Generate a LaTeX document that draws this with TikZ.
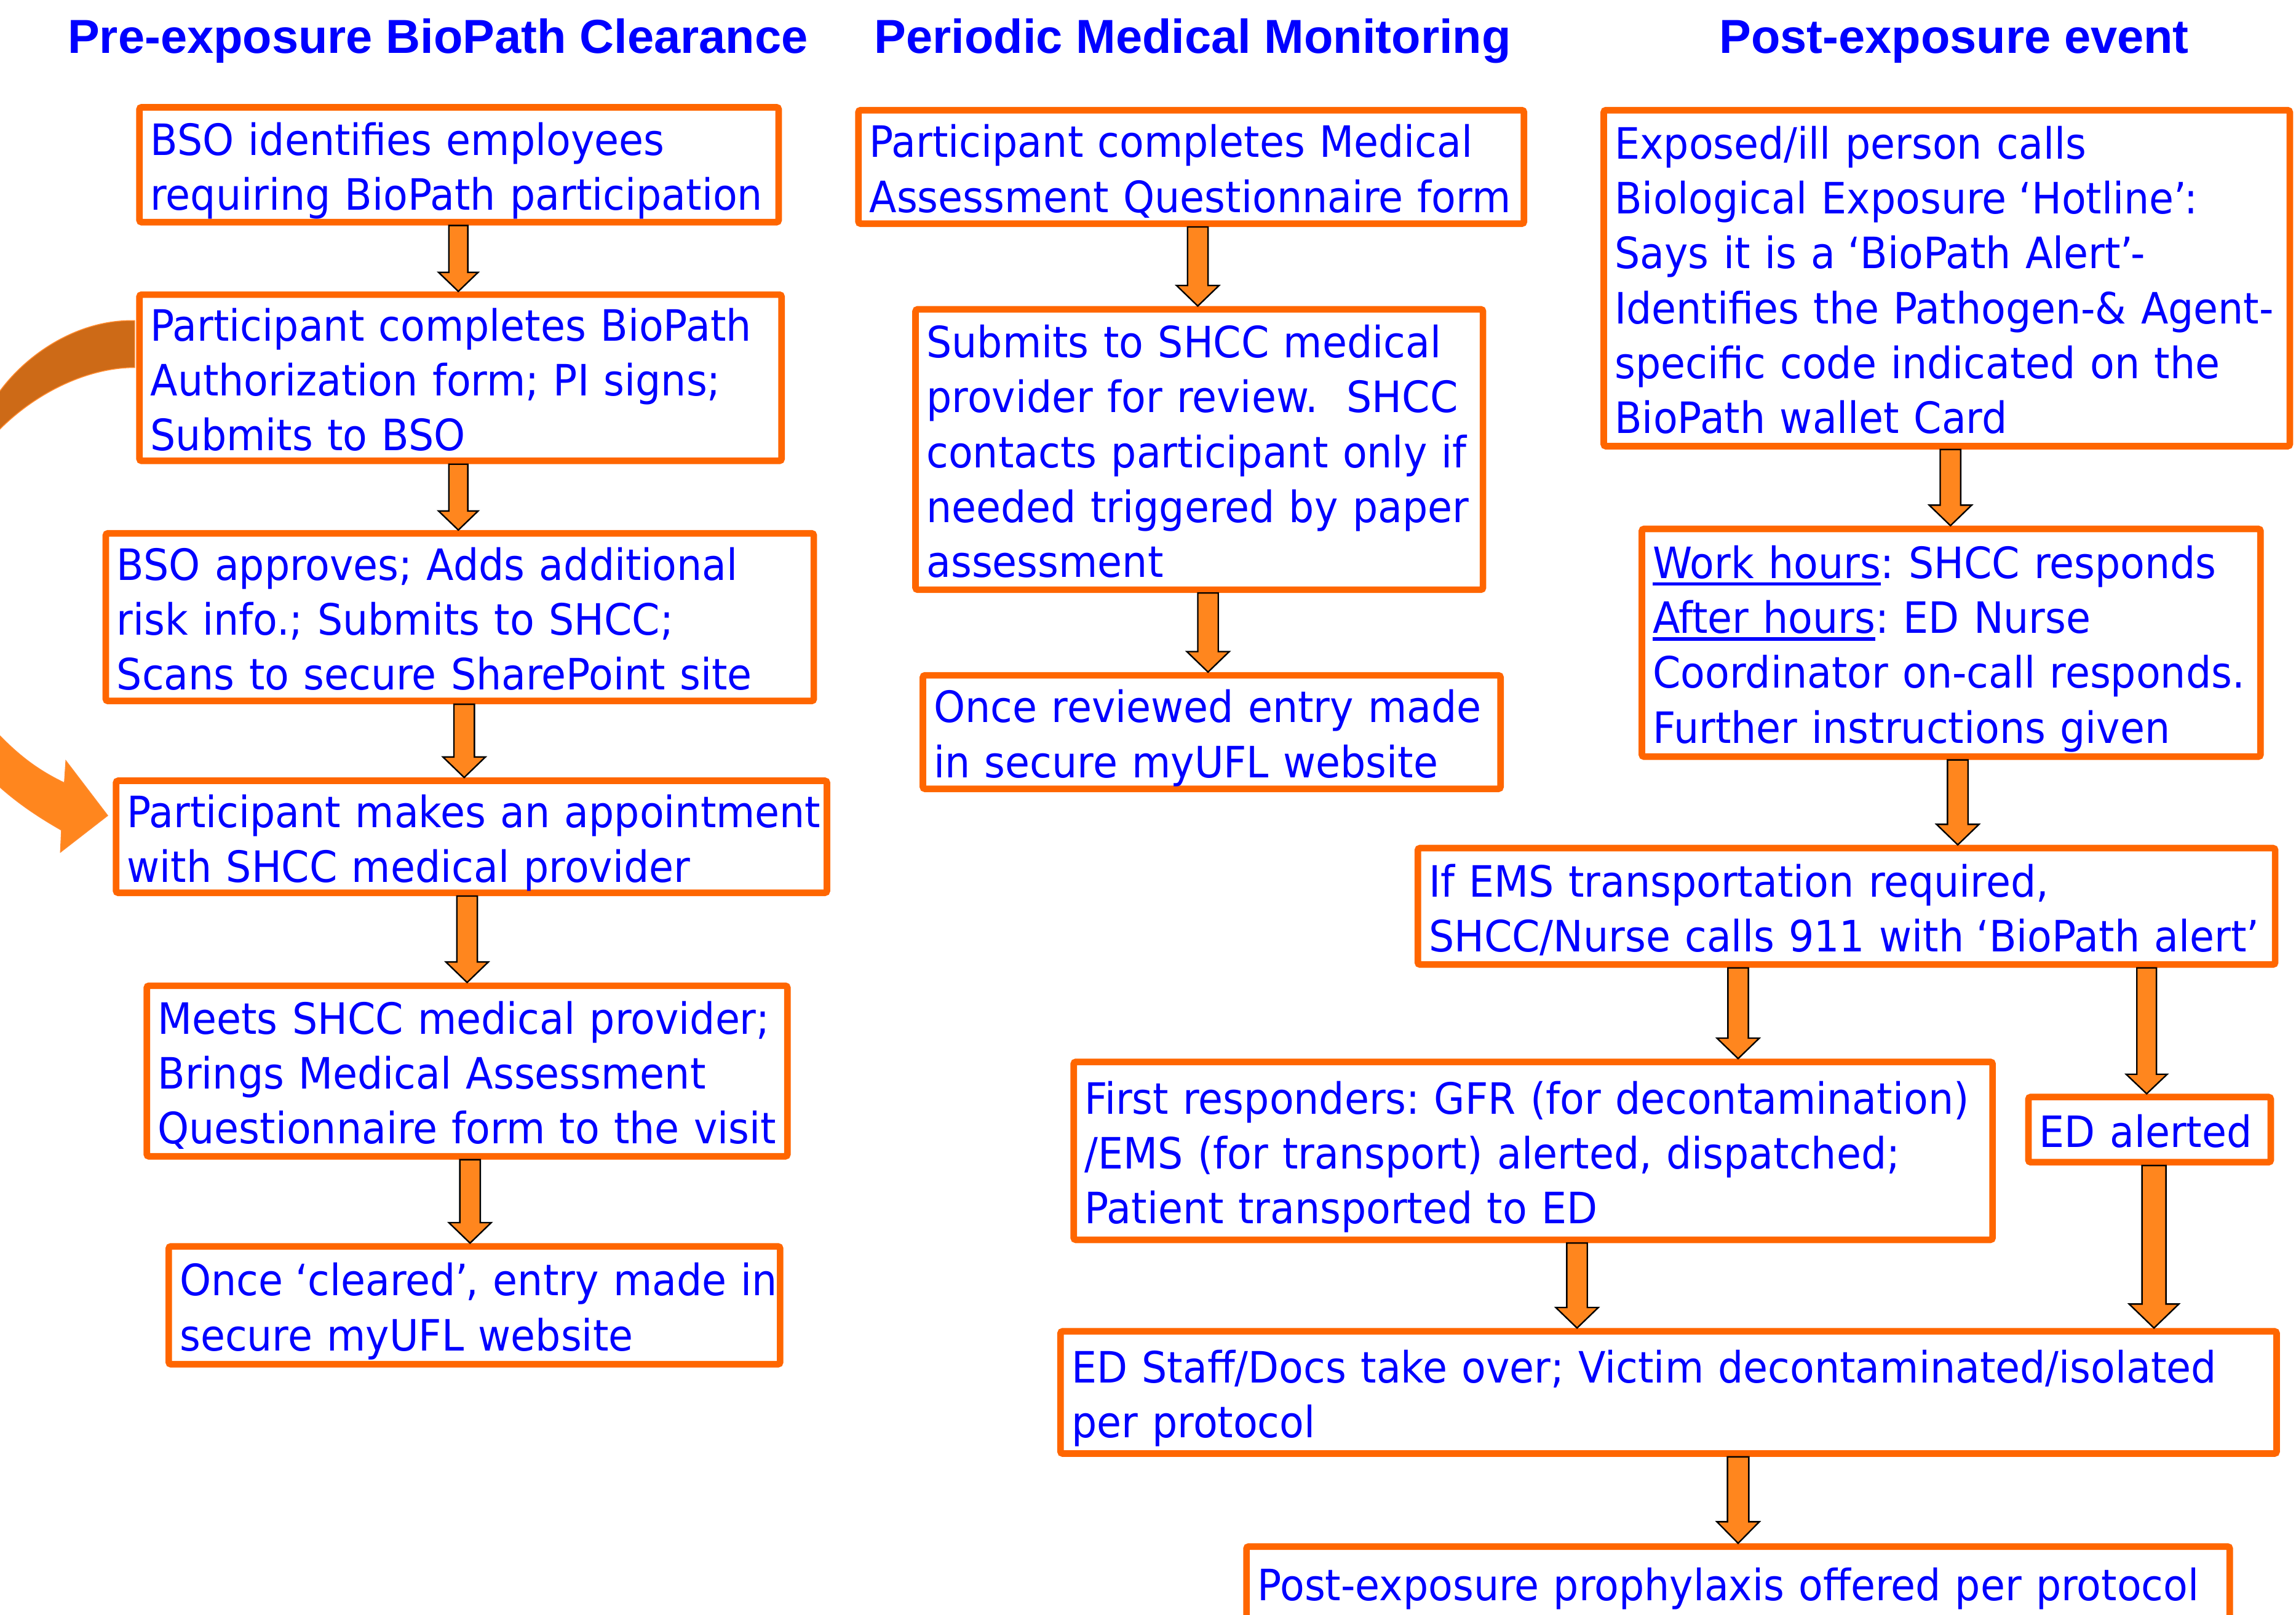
\documentclass[tikz,border=0pt]{standalone}
\usepackage{fontspec}
\setmainfont[FakeStretch=0.925]{DejaVu Sans}
\newfontfamily\titlefont{Liberation Sans}
\usetikzlibrary{calc}
\definecolor{boxor}{HTML}{FF6600}
\definecolor{txtblue}{HTML}{0000FF}
\definecolor{arrowor}{HTML}{FF861E}
\definecolor{curvedark}{HTML}{CD6A17}
\definecolor{curveedge}{HTML}{FF8A2E}
\newcommand\mystrut{\rule[-6.5pt]{0pt}{37.5pt}}
\newcommand\oq{\kern-1.5pt‘}
\newcommand\cq{’\kern-1.5pt}
\newsavebox\ulbox
\newcommand\ulw[1]{\sbox\ulbox{#1}\rlap{\rule[-5pt]{\wd\ulbox}{2.4pt}}\usebox\ulbox}
\frenchspacing
\tikzset{
 box/.style={draw=boxor, line width=4.5pt, rounded corners=1.5pt, fill=white, text=txtblue,
   align=left, inner xsep=7.5pt, inner ysep=0pt, font=\fontsize{29.5}{37.5}\selectfont\frenchspacing,
   execute at begin node=\mystrut, execute at end node=\mystrut},
 blockarrow/.style={fill=arrowor, draw=black, line width=1pt, line join=miter},
 title/.style={text=txtblue, font=\titlefont\bfseries\fontsize{32.6}{38}\selectfont, inner sep=0pt, anchor=base},
 curvearrow/.style={draw=curveedge, line width=0.6pt},
}
\newcommand\bx[6]{%
 \pgfmathsetmacro\bxw{#4-#2-4.5}%
 \pgfmathsetmacro\bxh{#5-#3-4.5}%
 \pgfmathsetmacro\bxt{#4-#2-4.5-15}%
 \node[box, minimum width=\bxw pt, minimum height=\bxh pt, text width=\bxt pt] (#1) at ({(#2+#4)/2},{(#3+#5)/2}) {#6};}
\newcommand\darrow[6]{%
 \path[blockarrow] let \p1=(#2.south), \p2=(#3.north) in
 ({(#1-#4)*1pt},\y1) -- ({(#1+#4)*1pt},\y1) -- ({(#1+#4)*1pt},{\y2+#6pt}) -- ({(#1+#5)*1pt},{\y2+#6pt})
 -- ({#1*1pt},\y2) -- ({(#1-#5)*1pt},{\y2+#6pt}) -- ({(#1-#4)*1pt},{\y2+#6pt}) -- cycle;}
\begin{document}
\begin{tikzpicture}[x=1pt,y=-1pt]
\useasboundingbox (0,0) rectangle (1568,1103);
\clip (0,0) rectangle (1568,1103);
% titles
\node[title] (T1) at (299,36.5) {Pre-exposure BioPath Clearance};
\node[title] (T2) at (814.5,36.5) {Periodic Medical Monitoring};
\node[title] (T3) at (1334.5,36.5) {Post-exposure event};
% left column
\bx{B1}{93}{71}{534}{154}{\mbox{BSO identifies employees}\\\mbox{requiring BioPath participation}}
\bx{B2}{93}{199}{536}{317}{\mbox{Participant completes BioPath}\\\mbox{Authorization form; PI signs;}\\\mbox{Submits to BSO}}
\bx{B3}{70}{362}{558}{481}{\mbox{BSO approves; Adds additional}\\\mbox{risk info.; Submits to SHCC;}\\\mbox{Scans to secure SharePoint site}}
\bx{B4}{77}{531}{567}{612}{\mbox{Participant makes an appointment}\\\mbox{with SHCC medical provider}}
\bx{B5}{98}{671}{540}{792}{\mbox{Meets SHCC medical provider;}\\\mbox{Brings Medical Assessment}\\\mbox{Questionnaire form to the visit}}
\bx{B6}{113}{849}{535}{934}{\mbox{Once \oq cleared\cq, entry made in}\\\mbox{secure myUFL website}}
% middle column
\bx{M1}{584}{73}{1043}{155}{\mbox{Participant completes Medical}\\\mbox{Assessment Questionnaire form}}
\bx{M2}{623}{209}{1015}{405}{\mbox{Submits to SHCC medical}\\\mbox{provider for review.~~SHCC}\\\mbox{contacts participant only if}\\\mbox{needed triggered by paper}\\\mbox{assessment}}
\bx{M3}{628}{459}{1027}{541}{\mbox{Once reviewed entry made}\\\mbox{in secure myUFL website}}
% right column
\bx{R1}{1093}{73}{1566}{307}{\mbox{Exposed/ill person calls}\\\mbox{Biological Exposure \oq Hotline\cq:}\\\mbox{Says it is a \oq BioPath Alert\cq-}\\\mbox{Identifies the Pathogen-\& Agent-}\\\mbox{specific code indicated on the}\\\mbox{BioPath wallet Card}}
\bx{R2}{1119}{359}{1546}{519}{\mbox{\ulw{Work hours}: SHCC responds}\\\mbox{\ulw{After hours}: ED Nurse}\\\mbox{Coordinator on-call responds.}\\\mbox{Further instructions given}}
\bx{R3}{966}{577}{1556}{661}{\mbox{If EMS transportation required,}\\\mbox{SHCC/Nurse calls 911 with \oq BioPath alert\cq}}
\bx{R4}{731}{723}{1363}{849}{\mbox{First responders: GFR (for decontamination)}\\\mbox{/EMS (for transport) alerted, dispatched;}\\\mbox{Patient transported to ED}}
\bx{R5}{1383}{747}{1553}{796}{\mbox{ED alerted}}
\bx{R6}{722}{907}{1557}{995}{\mbox{ED Staff/Docs take over; Victim decontaminated/isolated}\\\mbox{per protocol}}
\bx{R7}{849}{1054}{1525}{1108}{\mbox{Post-exposure prophylaxis offered per protocol}}
% block arrows
\darrow{313}{B1}{B2}{6.5}{13.5}{13}
\darrow{313}{B2}{B3}{6.5}{13.5}{13}
\darrow{317}{B3}{B4}{7}{14.5}{14}
\darrow{319}{B4}{B5}{7}{14.5}{14}
\darrow{321}{B5}{B6}{7}{14.5}{14}
\darrow{818}{M1}{M2}{7}{14.5}{14}
\darrow{825}{M2}{M3}{7}{14.5}{14}
\darrow{1332}{R1}{R2}{7}{14.5}{14}
\darrow{1337}{R2}{R3}{7}{14.5}{14}
\darrow{1187}{R3}{R4}{7}{14.5}{14}
\darrow{1466}{R3}{R5}{6.7}{14}{13.3}
\darrow{1077}{R4}{R6}{7}{14.5}{14}
\darrow{1471}{R5}{R6}{8.2}{17}{16.4}
\darrow{1187}{R6}{R7}{7.3}{14.5}{14.7}
% curved arrow from B2 round to B4
\path[curvearrow, fill=curvedark] (92,219) .. controls (55,218) and (20,240) .. (0,267) -- (-20,289) -- (-20,310) -- (0,293) .. controls (25,268) and (60,251) .. (92,251) -- cycle;
\path[curvearrow, fill=arrowor] (-20,481.6) -- (0,502.6) .. controls (15,518) and (28,527) .. (44,534.7) -- (45,519.6) -- (73.5,557) -- (41.3,582) -- (42,567) .. controls (28,559) and (14,550) .. (0,537.6) -- (-20,519.8) -- cycle;
\end{tikzpicture}
\end{document}
